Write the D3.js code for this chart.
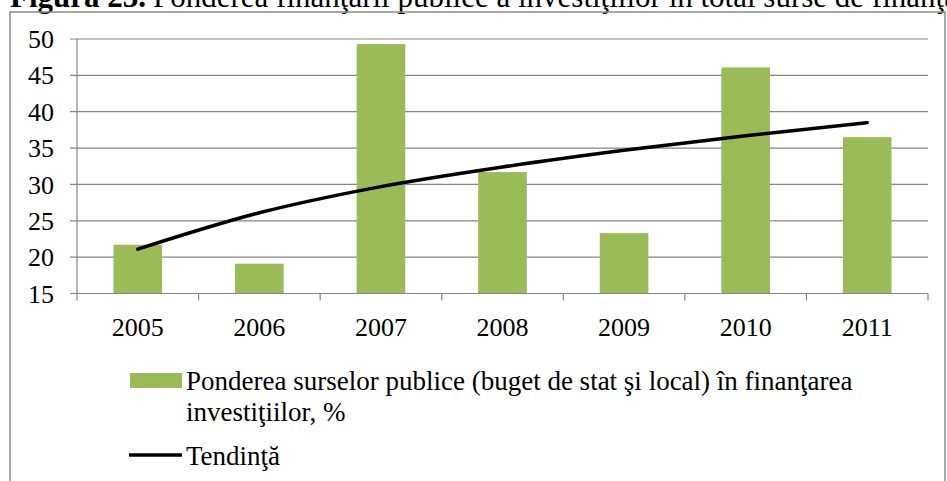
<!DOCTYPE html>
<html>
<head>
<meta charset="utf-8">
<script src="https://cdn.jsdelivr.net/npm/d3@7"></script>
<style>
  body { margin: 0; background: #fff; overflow: hidden; }
  svg { display: block; font-family: "Liberation Serif", "Times New Roman", serif; }
</style>
</head>
<body>
<div id="chart"></div>
<script>
// data
const years = ["2005", "2006", "2007", "2008", "2009", "2010", "2011"];
const shares = [21.7, 19.1, 49.3, 31.7, 23.3, 46.1, 36.5];
// trend line (power trend) as read at each year
const trend = [21.1, 26.1, 29.7, 32.4, 34.7, 36.7, 38.5];
const yTicks = [15, 20, 25, 30, 35, 40, 45, 50];

const barName = "Ponderea surselor publice (buget de stat şi local) în finanţarea";
const barName2 = "investiţiilor, %";
const trendName = "Tendinţă";

const width = 947, height = 481;
const plot = { left: 77, right: 928, top: 39, bottom: 293.5 };
const gridColor = "#868686";
const barColor = "#9BBB59";

const svg = d3.select("#chart").append("svg")
  .attr("width", width)
  .attr("height", height);

// title, cut at the top of the picture (as in the source)
svg.append("text")
  .attr("x", 10).attr("y", 7)
  .attr("font-size", 31).attr("font-weight", "bold")
  .text("Figura 23.");
svg.append("text")
  .attr("x", 153).attr("y", 7)
  .attr("font-size", 31)
  .text("Ponderea finanţării publice a investiţiilor în total surse de finanţare");

// chart frame
svg.append("rect")
  .attr("x", 10).attr("y", 12)
  .attr("width", 935).attr("height", 500)
  .attr("fill", "none")
  .attr("stroke", "#8c8c8c")
  .attr("stroke-width", 1.5);

const x = d3.scaleBand().domain(years).range([plot.left, plot.right]).paddingInner(0.6).paddingOuter(0.3);
const xOuter = d3.scaleBand().domain(years).range([plot.left, plot.right]);
const y = d3.scaleLinear().domain([15, 50]).range([plot.bottom, plot.top]);

// gridlines
svg.append("g")
  .selectAll("line")
  .data(yTicks)
  .enter().append("line")
    .attr("x1", plot.left - 7).attr("x2", plot.right)
    .attr("y1", d => y(d)).attr("y2", d => y(d))
    .attr("stroke", gridColor)
    .attr("stroke-width", 1.2);

// y labels
svg.append("g")
  .selectAll("text")
  .data(yTicks)
  .enter().append("text")
    .attr("x", 54)
    .attr("y", d => y(d))
    .attr("dy", "0.35em")
    .attr("text-anchor", "end")
    .attr("font-size", 26)
    .text(d => d);

// y axis line
svg.append("line")
  .attr("x1", plot.left).attr("x2", plot.left)
  .attr("y1", plot.top).attr("y2", plot.bottom)
  .attr("stroke", gridColor).attr("stroke-width", 1.2);

// bars
svg.append("g")
  .selectAll("rect")
  .data(shares)
  .enter().append("rect")
    .attr("x", (d, i) => x(years[i]))
    .attr("y", d => y(d))
    .attr("width", x.bandwidth())
    .attr("height", d => plot.bottom - y(d))
    .attr("fill", barColor);

// x axis line and tick marks between categories
svg.append("line")
  .attr("x1", plot.left).attr("x2", plot.right)
  .attr("y1", plot.bottom).attr("y2", plot.bottom)
  .attr("stroke", gridColor).attr("stroke-width", 1.2);
const bounds = years.map(d => xOuter(d)).concat([plot.right]);
svg.append("g")
  .selectAll("line")
  .data(bounds)
  .enter().append("line")
    .attr("x1", d => d).attr("x2", d => d)
    .attr("y1", plot.bottom).attr("y2", plot.bottom + 7)
    .attr("stroke", gridColor).attr("stroke-width", 1.2);

// x labels
svg.append("g")
  .selectAll("text")
  .data(years)
  .enter().append("text")
    .attr("x", d => xOuter(d) + xOuter.bandwidth() / 2)
    .attr("y", 336)
    .attr("text-anchor", "middle")
    .attr("font-size", 26)
    .text(d => d);

// trend line
const line = d3.line()
  .x((d, i) => xOuter(years[i]) + xOuter.bandwidth() / 2)
  .y(d => y(d))
  .curve(d3.curveMonotoneX);
svg.append("path")
  .datum(trend)
  .attr("d", line)
  .attr("fill", "none")
  .attr("stroke", "#000")
  .attr("stroke-width", 3.5)
  .attr("stroke-linecap", "round");

// legend
const legend = svg.append("g");
legend.append("rect")
  .attr("x", 130).attr("y", 373)
  .attr("width", 52).attr("height", 15)
  .attr("fill", barColor);
legend.append("text")
  .attr("x", 186).attr("y", 390)
  .attr("font-size", 27)
  .text(barName);
legend.append("text")
  .attr("x", 186).attr("y", 421)
  .attr("font-size", 27)
  .text(barName2);
legend.append("line")
  .attr("x1", 129).attr("x2", 182)
  .attr("y1", 455).attr("y2", 455)
  .attr("stroke", "#000")
  .attr("stroke-width", 3.5);
legend.append("text")
  .attr("x", 186).attr("y", 465)
  .attr("font-size", 27)
  .text(trendName);
</script>
</body>
</html>
